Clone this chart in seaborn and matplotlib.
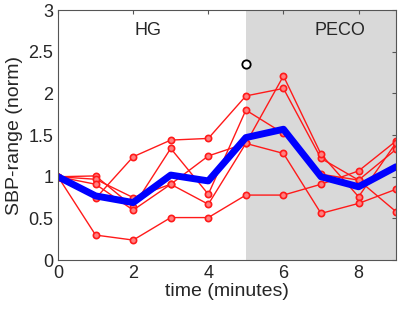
import numpy as np
import pandas as pd
import seaborn as sns
import matplotlib
matplotlib.use("Agg")
import matplotlib.pyplot as plt

# Data
minutes = [0, 1, 2, 3, 4, 5, 6, 7, 8, 9]
subj_1 = [1.0, 0.30, 0.24, 0.51, 0.51, 0.78, 0.78, 0.91, 1.07, 1.43]
subj_2 = [1.0, 0.74, 1.24, 1.44, 1.46, 1.97, 2.06, 1.22, 0.96, 0.58]
subj_3 = [1.0, 1.01, 0.64, 1.34, 0.79, 1.80, 1.52, 1.03, 0.96, 1.33]
subj_4 = [1.0, 0.97, 0.75, 0.91, 1.25, 1.40, 2.21, 1.27, 0.76, 1.41]
subj_5 = [1.0, 0.91, 0.60, 0.91, 0.67, 1.40, 1.28, 0.56, 0.68, 0.85]
group_mean = [1.0, 0.77, 0.69, 1.02, 0.95, 1.47, 1.57, 1.0, 0.88, 1.12]
outlier_x = [5]
outlier_y = [2.35]
peco_start, peco_end = 5, 9

subjects = {"s1": subj_1, "s2": subj_2, "s3": subj_3, "s4": subj_4, "s5": subj_5}
long_df = pd.DataFrame(
    [(name, t, v) for name, vals in subjects.items() for t, v in zip(minutes, vals)],
    columns=["subject", "time", "value"],
)
mean_df = pd.DataFrame({"time": minutes, "value": group_mean})

sns.set_style("white")
plt.rcParams["font.family"] = ["Liberation Sans", "DejaVu Sans"]

fig = plt.figure(figsize=(4.03, 3.16), dpi=100)
ax = fig.add_axes([0.144, 0.177, 0.839, 0.791])

ax.axvspan(peco_start, peco_end, color="#d9d9d9", lw=0, zorder=0)

sns.lineplot(
    long_df, x="time", y="value", units="subject", estimator=None,
    color="#ff1a1a", lw=1.0, marker="o", markersize=4.5,
    markeredgecolor="#ff1a1a", markerfacecolor="#ff8080", markeredgewidth=1.2,
    ax=ax, legend=False,
)
sns.lineplot(mean_df, x="time", y="value", color="#0000ff", lw=5, ax=ax, legend=False)
ax.plot(outlier_x, outlier_y, "o", mfc="white", mec="black", mew=1.3, ms=6)

ax.text(2.4, 2.76, "HG", fontsize=13, ha="center", va="center")
ax.text(7.5, 2.76, "PECO", fontsize=13, ha="center", va="center")

ax.set_xlim(0, 9)
ax.set_ylim(0, 3)
ax.set_xticks([0, 2, 4, 6, 8])
ax.set_yticks([0, 0.5, 1, 1.5, 2, 2.5, 3])
ax.set_yticklabels(["0", "0.5", "1", "1.5", "2", "2.5", "3"])
ax.tick_params(direction="in", top=True, right=True, length=3, labelsize=13,
               color="#555555", width=0.8)
for sp in ax.spines.values():
    sp.set_color("#555555")
    sp.set_linewidth(0.8)
ax.set_xlabel("time (minutes)", fontsize=14, labelpad=1)
ax.set_ylabel("SBP-range (norm)", fontsize=14, labelpad=4)

fig.savefig("out.png", dpi=100)
